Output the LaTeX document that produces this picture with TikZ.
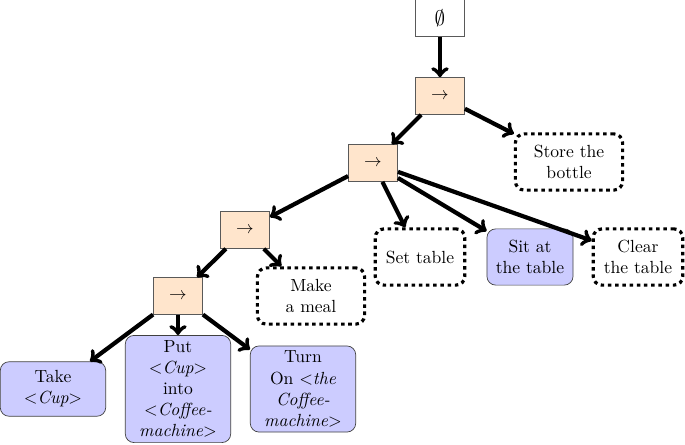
\documentclass[tikz,border=0pt]{standalone}
\usepackage{amsmath}
\usepackage{tikz}
\usetikzlibrary{arrows,positioning,calc}

\begin{document}
\begin{tikzpicture}[
    on grid,
    rootbox/.style = {rectangle, draw=black!65, fill=white, minimum width=28pt, minimum height=21pt},
    seqbox/.style = {rectangle, draw=black!65, fill=orange!20, minimum width=28pt, minimum height=21pt},
    actbox/.style = {rectangle, draw=black!75, fill=blue!20, align=center, rounded corners=5pt, minimum width=60pt, minimum height=31pt, inner sep=2pt},
    condbox/.style = {rectangle, draw, line width=1.8pt, dash pattern=on 2pt off 2.1pt, align=center, rounded corners=5pt, minimum width=51pt, minimum height=32pt},
    line/.style = {draw, line width=2.4pt, ->}
]
    \useasboundingbox (0,0) rectangle (13.7,-8.88);

    % Nodes
    \node [rootbox] (root) at (8.8,-0.36) {\large $\emptyset$};
    \node [seqbox, below=1.56cm of root] (seq1) {$\rightarrow$};
    \node [seqbox, below left=1.34cm and 1.34cm of seq1] (seq2) {$\rightarrow$};
    \node [condbox, minimum width=61pt, below right=1.32cm and 2.58cm of seq1] (store) {Store the\\bottle};

    \node [seqbox, below left=1.34cm and 2.56cm of seq2] (seq3) {$\rightarrow$};
    \node [condbox, below right=1.88cm and 0.94cm of seq2] (settable) {Set table};
    \node [actbox, minimum width=49pt, minimum height=32pt, right=2.2cm of settable] (sit) {Sit at\\the table};
    \node [condbox, right=2.16cm of sit] (clear) {Clear\\the table};

    \node [seqbox, below left=1.32cm and 1.34cm of seq3] (seq4) {$\rightarrow$};
    \node [condbox, minimum width=61pt, right=2.66cm of seq4] (meal) {Make\\a meal};

    \node [actbox, minimum height=61pt, below=1.86cm of seq4] (put) {Put\\$<$\textit{Cup}$>$\\into\\$<$\textit{Coffee-}\\\textit{machine}$>$};
    \node [actbox, left=2.5cm of put] (take) {Take\\$<$\textit{Cup}$>$};
    \node [actbox, minimum height=49pt, right=2.5cm of put] (turn) {Turn\\On $<$\textit{the}\\\textit{Coffee-}\\\textit{machine}$>$};

    % Edges
    \path [line] (root) -- (seq1);
    \path [line] (seq1) -- (seq2);
    \path [line] (seq1) -- (store);

    \path [line] (seq2) -- (seq3);
    \path [line] (seq2) -- (settable);
    \path [line] (seq2) -- (sit);
    \path [line] (seq2) -- (clear);

    \path [line] (seq3) -- (seq4);
    \path [line] (seq3) -- (meal);

    \path [line] (seq4) -- (take);
    \path [line] (seq4) -- (put);
    \path [line] (seq4) -- (turn);

\end{tikzpicture}
\end{document}
